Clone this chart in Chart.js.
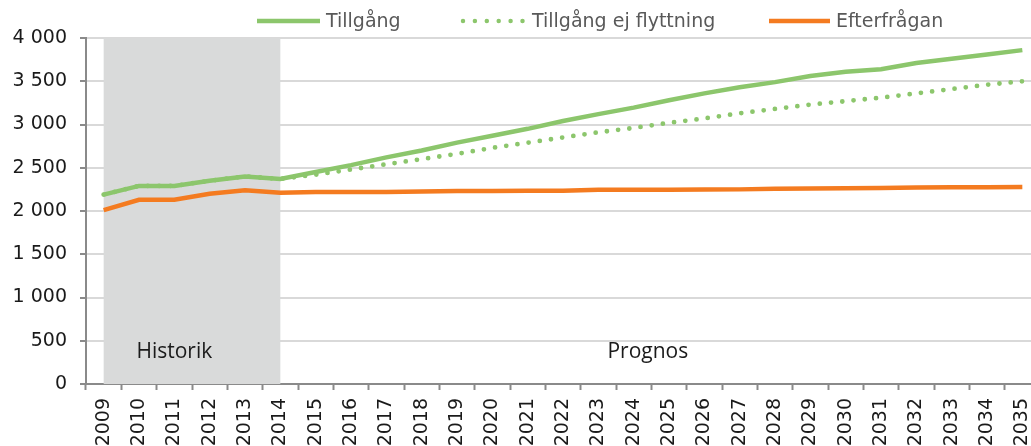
<!DOCTYPE html>
<html>
<head>
<meta charset="utf-8">
<script src="https://cdn.jsdelivr.net/npm/chart.js@4"></script>
<style>
  html, body { margin: 0; padding: 0; background: #fff; overflow: hidden; }
  #wrap { width: 1040px; height: 446px; position: relative; }
</style>
</head>
<body>
<div id="wrap"><canvas id="chart"></canvas></div>
<script>
const years = ['2009', '2010', '2011', '2012', '2013', '2014', '2015', '2016', '2017', '2018',
    '2019', '2020', '2021', '2022', '2023', '2024', '2025', '2026', '2027', '2028',
    '2029', '2030', '2031', '2032', '2033', '2034', '2035'];

const tillgang = [2190, 2290, 2290, 2350, 2400, 2370, 2450, 2530, 2620, 2700,
    2790, 2870, 2950, 3040, 3120, 3195, 3280, 3360, 3430, 3490,
    3560, 3610, 3640, 3710, 3760, 3810, 3860];

const tillgangEjFlytt = [2190, 2290, 2290, 2350, 2400, 2370, 2420, 2480, 2540, 2600,
    2660, 2730, 2790, 2850, 2910, 2960, 3020, 3070, 3130, 3180,
    3230, 3270, 3310, 3360, 3410, 3460, 3500];

const efterfragan = [2010, 2130, 2130, 2200, 2240, 2210, 2220, 2220, 2220, 2225,
    2230, 2230, 2235, 2235, 2245, 2245, 2245, 2248, 2250, 2258,
    2260, 2262, 2265, 2272, 2274, 2276, 2278];

const yTicks = [0, 500, 1000, 1500, 2000, 2500, 3000, 3500, 4000];
const seriesNames = ['Tillgång', 'Tillgång ej flyttning', 'Efterfrågan'];
const periodLabels = ['Historik', 'Prognos'];

const GREEN = '#8cc66c';
const ORANGE = '#f47b20';

function formatThousands(v) {
    return String(v).replace(/\B(?=(\d{3})+(?!\d))/g, ' ');
}

// grå bakgrund för historik + texterna Historik / Prognos
const periodPlugin = {
    id: 'period',
    beforeDatasetsDraw(chart) {
        const { ctx, chartArea, scales: { x, y } } = chart;
        const x0 = x.getPixelForValue(0);
        const x1 = x.getPixelForValue(5);
        ctx.save();
        ctx.fillStyle = '#d9dada';
        ctx.fillRect(x0, chartArea.top, x1 - x0, y.getPixelForValue(0) - chartArea.top);
        ctx.fillStyle = '#1a1a1a';
        ctx.font = '21px "Open Sans"';
        ctx.textAlign = 'center';
        ctx.textBaseline = 'middle';
        const ty = y.getPixelForValue(370);
        ctx.fillText(periodLabels[0], x.getPixelForValue(2), ty);
        ctx.fillText(periodLabels[1], x.getPixelForValue(15.4), ty);
        ctx.restore();
    }
};

// egen legend överst
const legendPlugin = {
    id: 'customLegend',
    afterDraw(chart) {
        const ctx = chart.ctx;
        const items = [
            { x0: 257, x1: 320, tx: 326, color: GREEN, dash: [] },
            { x0: 463, x1: 523, tx: 532, color: GREEN, dash: [0, 11.9] },
            { x0: 769, x1: 830, tx: 836, color: ORANGE, dash: [] }
        ];
        const ly = 21;
        ctx.save();
        items.forEach((it, i) => {
            ctx.beginPath();
            ctx.strokeStyle = it.color;
            ctx.lineWidth = 4.5;
            ctx.lineCap = it.dash.length ? 'round' : 'butt';
            ctx.setLineDash(it.dash);
            ctx.moveTo(it.x0, ly);
            ctx.lineTo(it.x1, ly);
            ctx.stroke();
            ctx.setLineDash([]);
            ctx.fillStyle = '#595959';
            ctx.font = '19px "DejaVu Sans"';
            ctx.textAlign = 'left';
            ctx.textBaseline = 'middle';
            ctx.fillText(seriesNames[i], it.tx, ly + 1);
        });
        ctx.restore();
    }
};

const ctx = document.getElementById('chart').getContext('2d');
new Chart(ctx, {
    type: 'line',
    data: {
        labels: years,
        datasets: [{
            label: seriesNames[0],
            data: tillgang,
            borderColor: GREEN,
            borderWidth: 4.5,
            pointRadius: 0,
            tension: 0
        }, {
            label: seriesNames[1],
            data: tillgangEjFlytt,
            borderColor: GREEN,
            borderWidth: 4.8,
            borderDash: [0, 11.3],
            borderCapStyle: 'round',
            pointRadius: 0,
            tension: 0,
            order: -1
        }, {
            label: seriesNames[2],
            data: efterfragan,
            borderColor: ORANGE,
            borderWidth: 4.5,
            pointRadius: 0,
            tension: 0
        }]
    },
    options: {
        responsive: true,
        maintainAspectRatio: false,
        animation: false,
        layout: { padding: { top: 38, right: 0, left: 0, bottom: 0 } },
        plugins: {
            legend: { display: false },
            tooltip: { enabled: false }
        },
        scales: {
            x: {
                offset: true,
                afterFit: function (scale) {
                    scale.height = 62;
                    scale.paddingLeft = 0;
                    scale.paddingRight = 0;
                },
                grid: {
                    offset: true,
                    drawOnChartArea: false,
                    tickLength: 6,
                    tickWidth: 2,
                    tickColor: '#8a8a8a'
                },
                border: { color: '#8a8a8a', width: 2 },
                ticks: {
                    autoSkip: false,
                    maxRotation: 90,
                    minRotation: 90,
                    padding: 8,
                    color: '#1a1a1a',
                    font: { family: 'DejaVu Sans', size: 19 }
                }
            },
            y: {
                min: 0,
                max: 4000,
                afterBuildTicks: function (scale) {
                    scale.ticks = yTicks.map(v => ({ value: v }));
                },
                afterFit: function (scale) {
                    scale.width = 86;
                },
                grid: {
                    color: '#d9d9d9',
                    lineWidth: 2,
                    tickLength: 6,
                    tickColor: '#8a8a8a',
                    tickWidth: 2
                },
                border: { color: '#8a8a8a', width: 2 },
                ticks: {
                    padding: 13,
                    color: '#1a1a1a',
                    font: { family: 'DejaVu Sans', size: 19 },
                    callback: function (value) {
                        return formatThousands(value);
                    }
                }
            }
        }
    },
    plugins: [periodPlugin, legendPlugin]
});
</script>
</body>
</html>
